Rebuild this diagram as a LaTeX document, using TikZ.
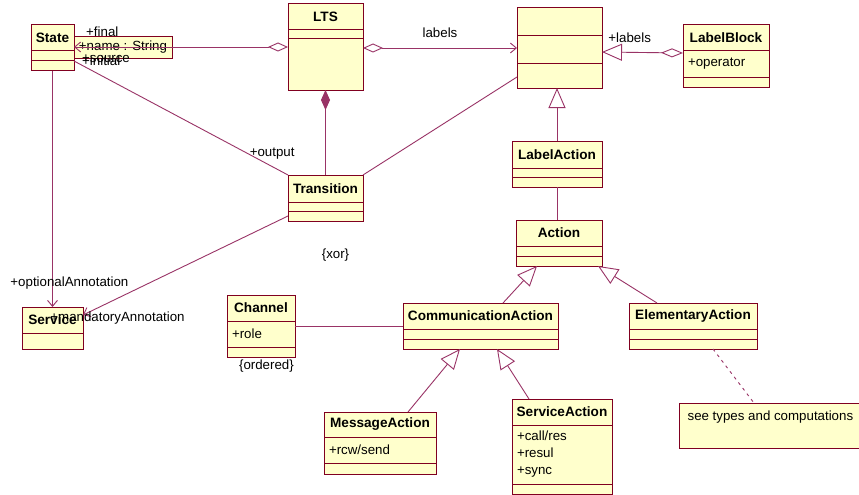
\documentclass[tikz,border=0pt]{standalone}
\usepackage{fontspec}
\setmainfont{Liberation Sans}
\usetikzlibrary{positioning}
\usetikzlibrary{arrows.meta}

\definecolor{umlfill}{RGB}{255,255,204}
\definecolor{umlline}{RGB}{128,0,32}
\definecolor{umllink}{RGB}{153,51,102}

\begin{document}
\begin{tikzpicture}[x=1pt,y=-1pt,font=\fontsize{13.3}{17}\selectfont,
	cls/.style={minimum height=26pt,outer sep=0pt,inner sep=2pt,draw=umlline,line width=1pt,fill=umlfill,font=\fontsize{13.6}{17}\selectfont\bfseries},
	comp/.style={minimum height=10pt,outer sep=0pt,inner xsep=5pt,inner ysep=0pt,draw=umlline,line width=1pt,fill=umlfill,align=left},
	txt/.style={inner sep=1pt},
	link/.style={draw=umllink,line width=.9pt},
	inherit/.style={link,-{Triangle[open,length=20pt,width=17pt]}},
	nav/.style={link,-{Straight Barb[length=6pt,width=10pt]}},
	aggr/.style={link,{Diamond[open,length=20pt,width=9pt]}-{Straight Barb[length=6pt,width=10pt]}},
	compo/.style={link,{Diamond[length=20pt,width=9pt]}-}]
	\useasboundingbox[fill=white] (0,0) rectangle (859,495);

	% top row
	\node [cls,minimum width=43pt] at (52.5,38) (state_title) {State};
	\node [comp,minimum width=43pt,below=0pt of state_title] (state_attr) {};
	\node [comp,minimum width=43pt,below=0pt of state_attr] (state_ops) {};

	\node [cls,minimum width=75pt] at (325.5,17) (lts_title) {LTS};
	\node [comp,minimum width=75pt,minimum height=9pt,below=0pt of lts_title] (lts_attr) {};
	\node [comp,minimum width=75pt,minimum height=51pt,below=0pt of lts_attr] (lts_ops) {};

	\node [cls,minimum width=85pt,minimum height=28pt] at (559.5,22) (lbl_title) {};
	\node [comp,minimum width=85pt,minimum height=28pt,below=0pt of lbl_title] (lbl_attr) {};
	\node [comp,minimum width=85pt,minimum height=24pt,below=0pt of lbl_attr] (lbl_ops) {};

	\node [cls,minimum width=86pt] at (726,38) (lb_title) {LabelBlock};
	\node [comp,minimum width=86pt,minimum height=26pt,text width=76pt,below=0pt of lb_title] (lb_attr) {+operator};
	\node [comp,minimum width=86pt,below=0pt of lb_attr] (lb_ops) {};

	\node [txt,fill=umlfill,draw=umlline,line width=.8pt,minimum width=98pt,minimum height=22pt,outer sep=0pt] at (123,47) (state_name) {+name : String};

	% middle
	\node [cls,minimum width=90pt,minimum height=27pt] at (557,154.5) (la_title) {LabelAction};
	\node [comp,minimum width=90pt,minimum height=9pt,below=0pt of la_title] (la_attr) {};
	\node [comp,minimum width=90pt,below=0pt of la_attr] (la_ops) {};

	\node [cls,minimum width=75pt,minimum height=27pt] at (325.5,188.5) (tr_title) {Transition};
	\node [comp,minimum width=75pt,minimum height=9pt,below=0pt of tr_title] (tr_attr) {};
	\node [comp,minimum width=75pt,below=0pt of tr_attr] (tr_ops) {};

	\node [cls,minimum width=86pt] at (559,233) (act_title) {Action};
	\node [comp,minimum width=86pt,below=0pt of act_title] (act_attr) {};
	\node [comp,minimum width=86pt,below=0pt of act_attr] (act_ops) {};

	\node [cls,minimum width=61pt] at (52.5,320) (svc_title) {Service};
	\node [comp,minimum width=61pt,minimum height=16pt,below=0pt of svc_title] (svc_ops) {};

	\node [cls,minimum width=68pt] at (261,308) (ch_title) {Channel};
	\node [comp,minimum width=68pt,minimum height=26pt,text width=58pt,below=0pt of ch_title] (ch_attr) {+role};
	\node [comp,minimum width=68pt,below=0pt of ch_attr] (ch_ops) {};

	\node [cls,minimum width=155pt] at (480.5,316) (ca_title) {CommunicationAction};
	\node [comp,minimum width=155pt,below=0pt of ca_title] (ca_attr) {};
	\node [comp,minimum width=155pt,below=0pt of ca_attr] (ca_ops) {};

	\node [cls,minimum width=128pt] at (693,316) (ea_title) {ElementaryAction};
	\node [comp,minimum width=128pt,below=0pt of ea_title] (ea_attr) {};
	\node [comp,minimum width=128pt,below=0pt of ea_attr] (ea_ops) {};

	% bottom row
	\node [cls,minimum width=112pt,minimum height=25pt] at (380,424.5) (ma_title) {MessageAction};
	\node [comp,minimum width=112pt,minimum height=26pt,text width=102pt,below=0pt of ma_title] (ma_attr) {+rcw/send};
	\node [comp,minimum width=112pt,minimum height=11pt,below=0pt of ma_attr] (ma_ops) {};

	\node [cls,minimum width=100pt] at (562,412) (sa_title) {ServiceAction};
	\node [comp,minimum width=100pt,minimum height=59pt,text width=90pt,below=0pt of sa_title] (sa_attr) {+call/res\\+resul\\+sync};
	\node [comp,minimum width=100pt,below=0pt of sa_attr] (sa_ops) {};

	\node [fill=umlfill,draw=umlline,line width=.8pt,anchor=north west,minimum width=182pt,inner xsep=6pt,inner ysep=4pt,text height=13pt,text depth=24pt] at (679,403) (note) {see types and computations};

	% connectors
	\draw [aggr] ([yshift=-8pt]lts_ops.north west) -- ([yshift=-9pt]state_title.east);
	\draw [aggr] ([yshift=-9pt]lts_ops.north east) -- ([yshift=-12pt]lbl_attr.north west)
		node [txt,midway,above=9pt] {labels};
	\draw [link,{Diamond[open,length=22pt,width=9pt]}-{Triangle[open,length=20pt,width=17pt]}] ([yshift=-2pt]lb_attr.north west) -- ([yshift=-16pt]lbl_attr.north east)
		node [txt,pos=1,anchor=south west,xshift=5pt,yshift=8pt] {+labels};
	\draw [compo] (lts_ops.south) -- (tr_title.north);
	\draw [link] (state_ops.north east) -- (tr_title.north west)
		node [txt,pos=1,anchor=south east,xshift=8pt,yshift=14pt] {+output};
	\draw [link] (tr_title.north east) -- ([yshift=-13pt]lbl_ops.north west);
	\draw [nav] (state_ops.south) -- (state_ops.south |- svc_title.north)
		node [txt,pos=1,anchor=south west,xshift=-43.5pt,yshift=16pt] {+optionalAnnotation};
	\draw [nav] (tr_ops.west) -- ([yshift=-8pt]svc_title.north east)
		node [txt,pos=1,anchor=base west,xshift=-34pt,yshift=-6pt] {+mandatoryAnnotation};

	\draw [inherit] (la_title.north) -- (la_title.north |- lbl_ops.south);
	\draw [link] (la_ops.south) -- (la_ops.south |- act_title.north);
	\draw [inherit] ([xshift=100pt]ca_title.north west) -- ([xshift=21pt]act_ops.south west);
	\draw [inherit] ([xshift=28pt]ea_title.north west) -- ([xshift=-4pt]act_ops.south east);
	\draw [inherit] ([xshift=84pt]ma_title.north west) -- ([xshift=57pt]ca_ops.south west);
	\draw [inherit] ([xshift=17pt]sa_title.north west) -- ([xshift=94pt]ca_ops.south west);
	\draw [link] ([yshift=-5pt]ch_attr.north east) -- ([yshift=-5pt]ch_attr.north east -| ca_title.west);
	\draw [link,dash pattern=on 3pt off 4pt] ([xshift=84pt]ea_ops.south west) -- ([xshift=75pt]note.north west);

	% role names and constraints
	\node [txt,anchor=base west] at (85,37) (lbl_final) {+final};
	\node [txt,anchor=base west] at (81,63) (lbl_source) {+source};
	\node [txt,anchor=base west] at (81,66) (lbl_initial) {+initial};
	\node [txt,below=27pt of tr_ops,xshift=10pt] (xor) {\{xor\}};
	\node [txt,below left=2pt and 0pt of ch_ops.south east] (ordered) {\{ordered\}};
\end{tikzpicture}
\end{document}
